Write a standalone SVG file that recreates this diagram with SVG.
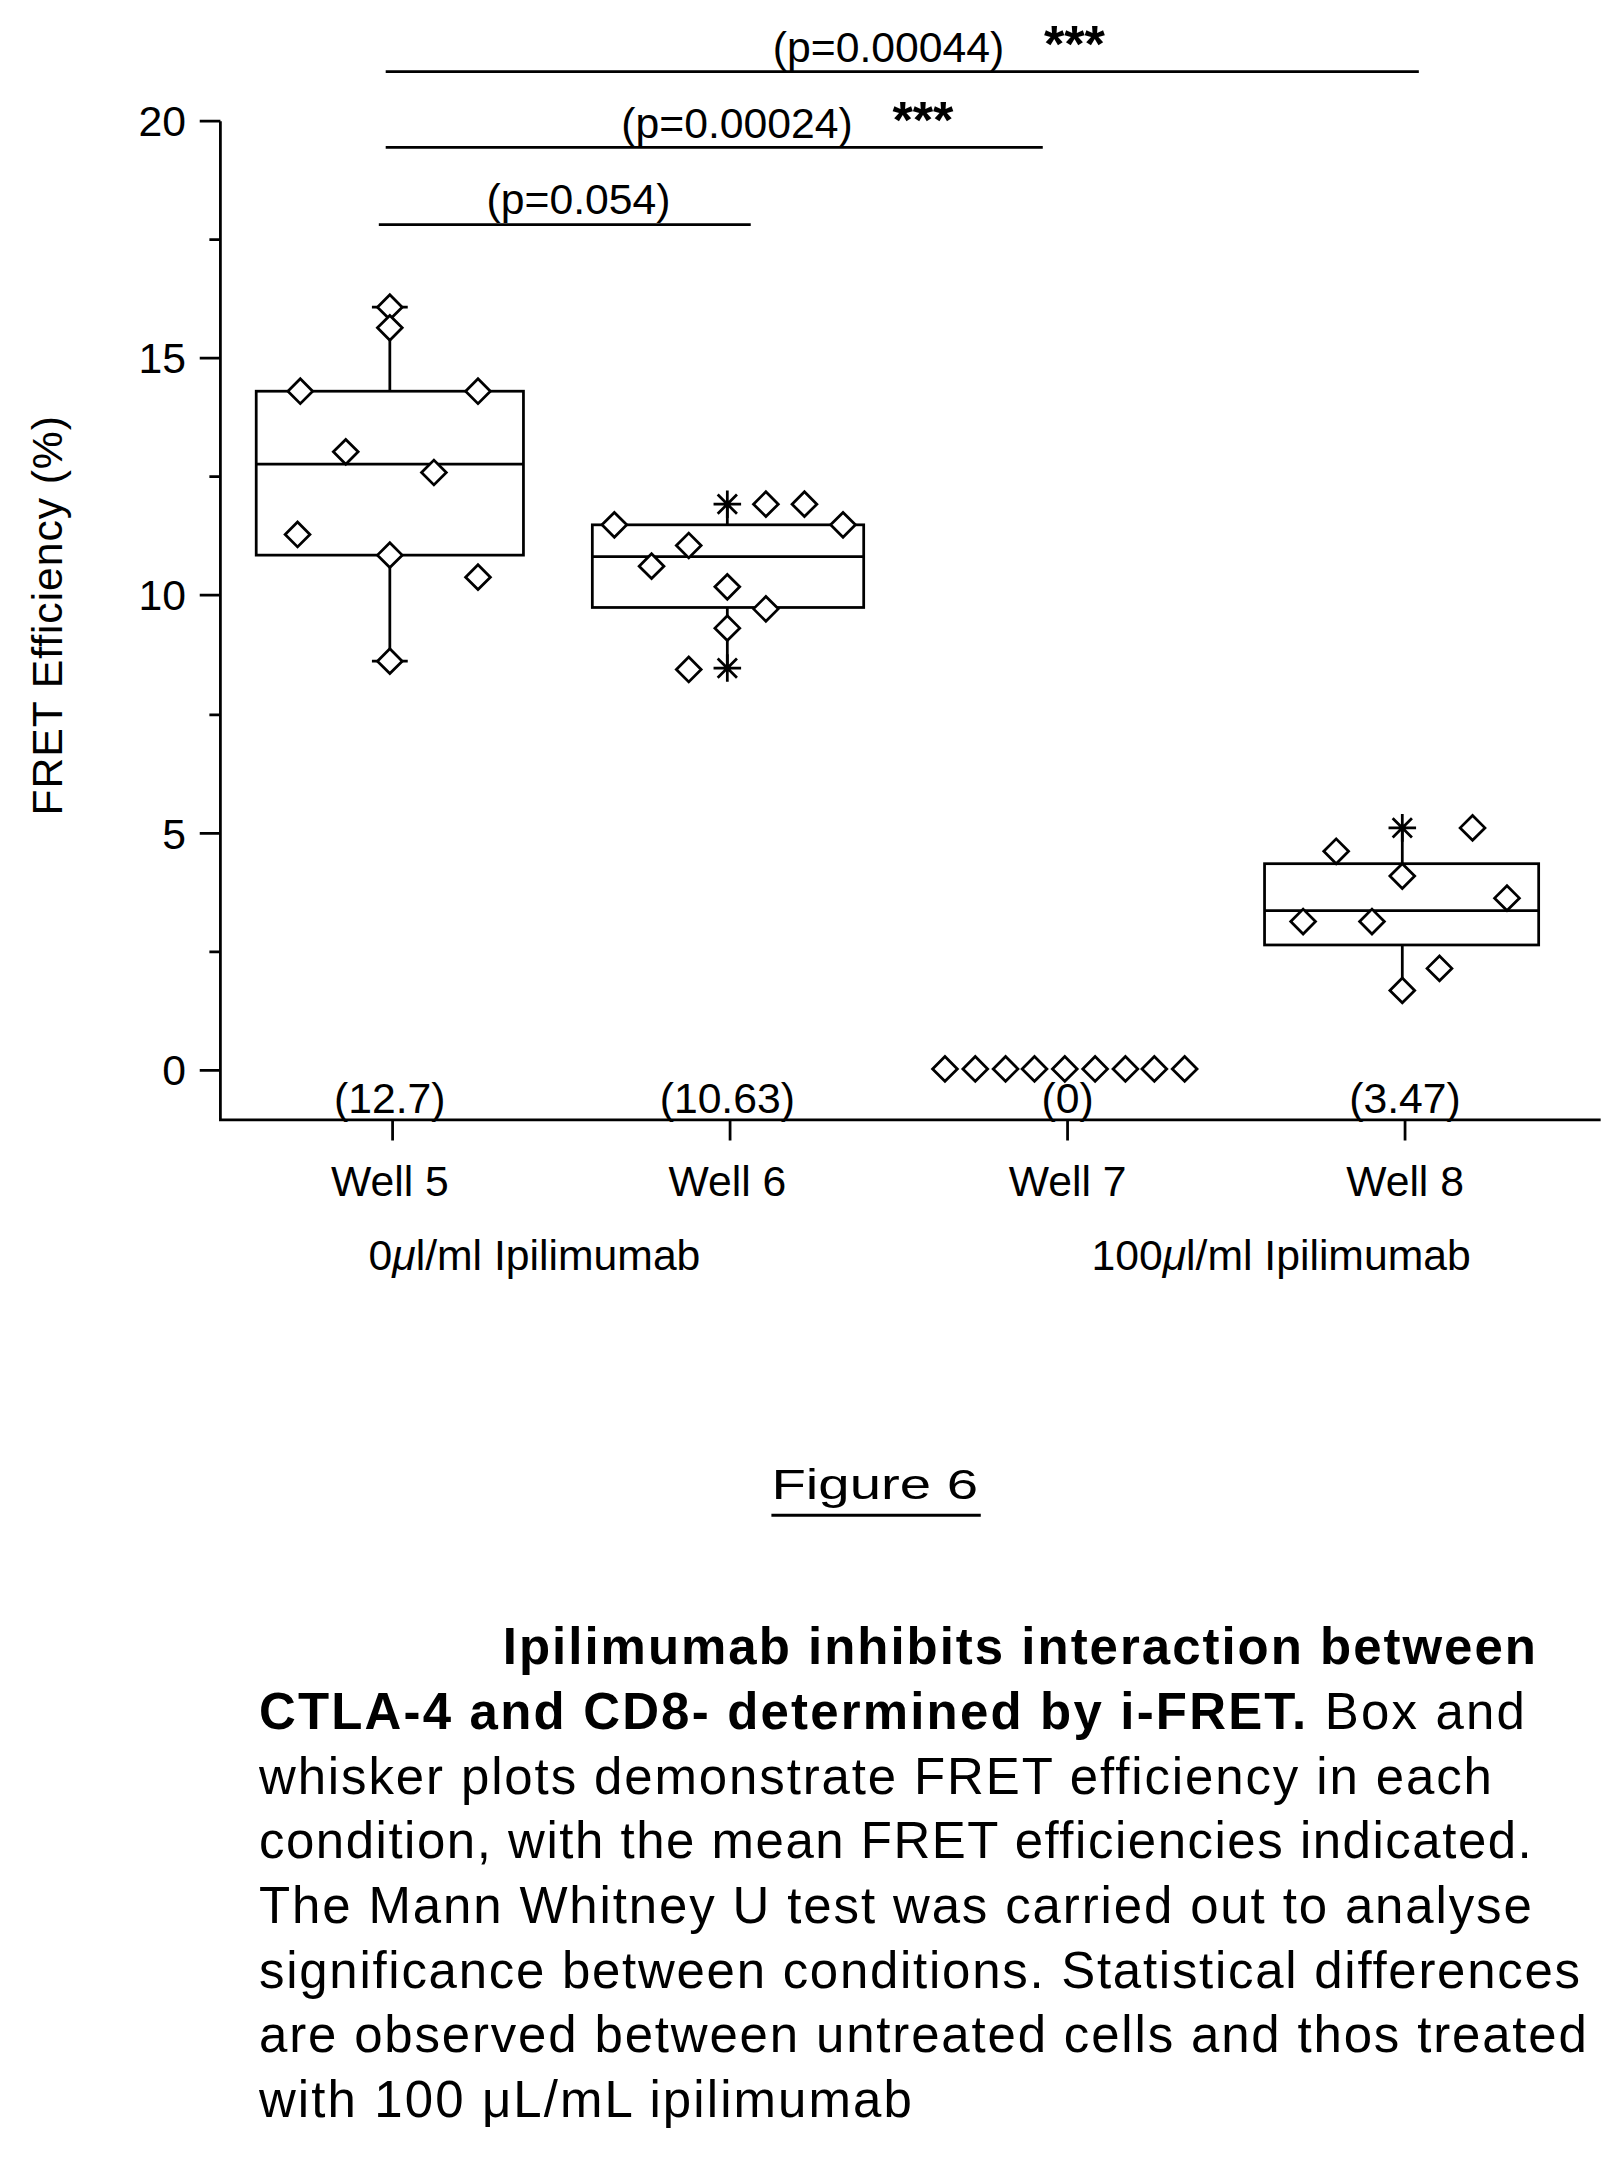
<svg xmlns="http://www.w3.org/2000/svg" width="1602" height="2157" viewBox="0 0 1602 2157">
<defs>
<style>
.ax{stroke:#000;stroke-width:2;fill:none}
.t{font-family:"Liberation Sans",Arial,sans-serif;font-size:31px;fill:#000}
.c{font-family:"Liberation Sans",Arial,sans-serif;font-size:37px;fill:#000}
.b{font-weight:bold}
</style>
<path id="d" d="M-9,0 L0,-9 L9,0 L0,9 Z" fill="#fff" stroke="#000" stroke-width="2"/>
<path id="s" d="M-10,0 H10 M0,-10 V10 M-7,-7 L7,7 M-7,7 L7,-7" stroke="#000" stroke-width="2"/>
</defs>
<rect width="1602" height="2157" fill="#fff"/>
<g transform="scale(1.3775)">
<g id="axes" class="ax">
<path d="M160,88 V813 H1162"/>
<path d="M145,88 H160 M145,260 H160 M145,432 H160 M145,605 H160 M145,777 H160 M152,174 H160 M152,346 H160 M152,519 H160 M152,691 H160"/>
<path d="M285,813 V828 M530,813 V828 M775,813 V828 M1020,813 V828"/>
</g>
<g id="ylabels" class="t" text-anchor="end">
<text x="135" y="99">20</text><text x="135" y="271">15</text><text x="135" y="443">10</text><text x="135" y="616">5</text><text x="135" y="788">0</text>
</g>
<text class="t" transform="translate(45,447) rotate(-90)" text-anchor="middle" textLength="290">FRET Efficiency (%)</text>
<g id="connectors" class="ax">
<path d="M275,163 H545 M280,107 H757 M280,52 H1030"/>
</g>
<g class="t" text-anchor="middle">
<text x="420" y="155">(p=0.054)</text>
<text x="535" y="100">(p=0.00024)</text>
<text x="645" y="45">(p=0.00044)</text>
<text x="670" y="100" class="b" font-size="38">***</text>
<text x="780" y="45" class="b" font-size="38">***</text>
</g>
<g id="well5">
<g class="ax"><rect x="186" y="284" width="194" height="119"/><path d="M186,337 H380 M283,284 V223 M270,223 H296 M283,403 V480 M270,480 H296"/></g>
<use href="#d" x="218" y="284"/><use href="#d" x="251" y="328"/><use href="#d" x="216" y="388"/><use href="#d" x="283" y="223"/><use href="#d" x="283" y="238"/><use href="#d" x="283" y="403"/><use href="#d" x="283" y="480"/><use href="#d" x="315" y="343"/><use href="#d" x="347" y="284"/><use href="#d" x="347" y="419"/>
</g>
<g id="well6">
<g class="ax"><rect x="430" y="381" width="197" height="60"/><path d="M430,404 H627 M528,381 V366 M528,441 V485"/></g>
<use href="#s" x="528" y="366"/><use href="#s" x="528" y="485"/>
<use href="#d" x="446" y="381"/><use href="#d" x="473" y="411"/><use href="#d" x="500" y="396"/><use href="#d" x="528" y="426"/><use href="#d" x="528" y="456"/><use href="#d" x="500" y="486"/><use href="#d" x="556" y="442"/><use href="#d" x="556" y="366"/><use href="#d" x="584" y="366"/><use href="#d" x="612" y="381"/>
</g>
<g id="well7">
<use href="#d" x="686" y="776"/><use href="#d" x="708" y="776"/><use href="#d" x="730" y="776"/><use href="#d" x="751" y="776"/><use href="#d" x="773" y="776"/><use href="#d" x="795" y="776"/><use href="#d" x="817" y="776"/><use href="#d" x="838" y="776"/><use href="#d" x="860" y="776"/>
</g>
<g id="well8">
<g class="ax"><rect x="918" y="627" width="199" height="59"/><path d="M918,661 H1117 M1018,627 V601 M1018,686 V719"/></g>
<use href="#s" x="1018" y="601"/>
<use href="#d" x="946" y="669"/><use href="#d" x="970" y="618"/><use href="#d" x="996" y="669"/><use href="#d" x="1018" y="636"/><use href="#d" x="1018" y="719"/><use href="#d" x="1045" y="703"/><use href="#d" x="1069" y="601"/><use href="#d" x="1094" y="652"/>
</g>
<g id="xlabels" class="t" text-anchor="middle">
<text x="283" y="808">(12.7)</text><text x="528" y="808">(10.63)</text><text x="775" y="808">(0)</text><text x="1020" y="808">(3.47)</text>
<text x="283" y="868">Well 5</text><text x="528" y="868">Well 6</text><text x="775" y="868">Well 7</text><text x="1020" y="868">Well 8</text>
<text x="388" y="922">0<tspan font-style="italic">μ</tspan>l/ml Ipilimumab</text>
<text x="930" y="922">100<tspan font-style="italic">μ</tspan>l/ml Ipilimumab</text>
</g>
<g id="fig">
<text class="t" x="560" y="1088" font-size="42" textLength="150" lengthAdjust="spacingAndGlyphs">Figure 6</text>
<path d="M560,1100 H712" class="ax"/>
</g>
<g id="caption" class="c">
<text x="365" y="1208" class="b" textLength="750">Ipilimumab inhibits interaction between</text>
<text x="188" y="1255" textLength="919"><tspan class="b">CTLA-4 and CD8- determined by i-FRET.</tspan> Box and</text>
<text x="188" y="1302" textLength="895">whisker plots demonstrate FRET efficiency in each</text>
<text x="188" y="1349" textLength="924">condition, with the mean FRET efficiencies indicated.</text>
<text x="188" y="1396" textLength="924">The Mann Whitney U test was carried out to analyse</text>
<text x="188" y="1443" textLength="959">significance between conditions. Statistical differences</text>
<text x="188" y="1490" textLength="964">are observed between untreated cells and thos treated</text>
<text x="188" y="1537" textLength="474">with 100 μL/mL ipilimumab</text>
</g>
</g>
</svg>
